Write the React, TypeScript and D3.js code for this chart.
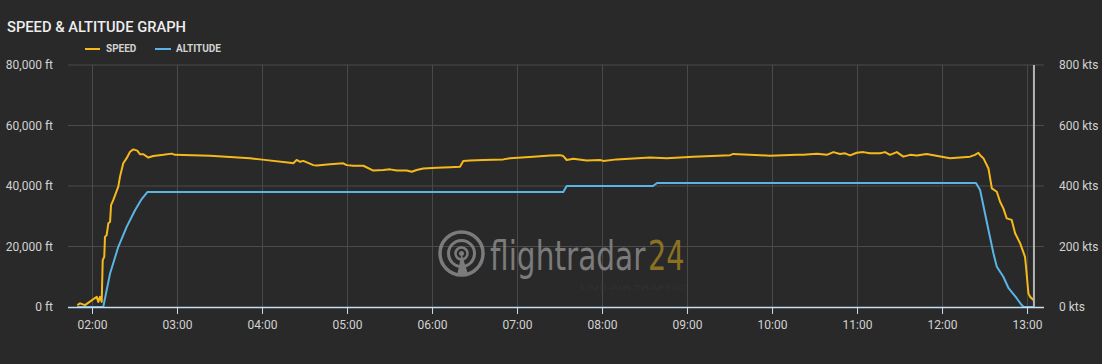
import React from "react";
import * as d3 from "d3";

// time in minutes since 00:00 UTC, speed in kts
const speedTimes = [109.3,111.2,114.7,123.0,124.1,125.3,126.5,127.2,128.3,128.8,130.0,131.2,132.4,133.1,134.7,138.2,139.4,141.7,144.1,146.5,148.8,151.6,153.5,155.9,159.4,162.9,170.0,175.9,178.2,202.9,231.2,238.2,259.4,261.7,264.1,266.5,268.8,275.9,278.3,287.6,297.0,299.4,304.1,311.2,318.2,325.3,330.0,334.7,341.8,345.3,348.8,353.5,363.0,372.4,379.4,381.7,386.5,395.9,410.0,414.7,431.2,443.0,450.0,452.3,454.7,459.4,468.8,478.2,480.6,490.0,513.5,525.3,544.1,570.0,572.3,591.2,598.2,617.1,621.7,631.2,638.3,643.0,647.6,651.2,654.7,659.4,664.1,668.8,675.9,679.4,682.9,687.7,692.3,697.1,701.8,708.8,725.3,739.4,742.9,745.3,746.5,748.8,752.4,754.8,758.3,760.6,762.9,765.3,768.8,771.2,774.7,778.2,778.9,780.6,781.8,784.1];
const speedKts = [6,12,6,34,17,34,17,155,166,232,238,277,282,337,354,398,431,475,492,513,521,517,505,505,494,499,503,507,503,500,492,488,477,475,486,480,483,469,468,472,475,469,467,467,451,453,455,451,451,447,453,458,460,462,464,483,484,486,488,492,497,501,502,499,486,490,484,486,483,488,494,492,497,502,506,502,500,503,503,507,503,512,506,508,501,510,512,508,508,512,503,512,497,503,501,506,492,497,503,510,502,492,458,392,381,348,326,293,288,244,211,166,133,45,34,23,7];

const altTimes = [109.1,127.6,132.4,138.2,144.1,150.0,154.7,158.7,452.3,454.7,515.6,518.5,743.6,746.5,752.4,755.9,758.3,762.9,766.6,772.3,775.8,777.4,784.0];
const altFeet = [0,0,11100,19900,26500,32000,35700,38000,38000,40000,40000,41000,41000,38700,25450,17750,13300,10000,6200,2900,660,0,0];

const hourTicks = [120,180,240,300,360,420,480,540,600,660,720,780];
const altTicks = [0,20000,40000,60000,80000];
const speedTicks = [0,200,400,600,800];
const cursorTime = 784.5;

const BG = "#292929";
const GRID = "#4b4b4b";
const TXT = "#d2d2d2";
const SPEED = "#f6b91c";
const ALT = "#5ab4e5";
const AXIS = "#c9dff0";

export default function App() {
  const W = 1102, H = 364;
  const x = d3.scaleLinear().domain([102.7, 791.6]).range([68, 1044]);
  const yAlt = d3.scaleLinear().domain([0, 80000]).range([307, 65]);
  const ySpd = d3.scaleLinear().domain([0, 800]).range([307, 65]);

  const spdLine = d3.line<number>().x((_, i) => x(speedTimes[i])).y((d) => ySpd(d));
  const altLine = d3.line<number>().x((_, i) => x(altTimes[i])).y((d) => yAlt(d));

  const fmtTime = (m: number) => {
    const h = Math.floor(m / 60), mm = Math.round(m % 60);
    return `${String(h).padStart(2, "0")}:${String(mm).padStart(2, "0")}`;
  };
  const fmtFt = d3.format(",");

  return (
    <svg width={W} height={H} style={{ position: "absolute", left: 0, top: 0, background: BG }} fontFamily="Roboto, sans-serif">
      <rect x={0} y={0} width={W} height={H} fill={BG} />
      <text x={7} y={32} fontSize={15.5} fontWeight={500} fill="#eeeeee" textLength={179} lengthAdjust="spacingAndGlyphs">SPEED &amp; ALTITUDE GRAPH</text>

      {/* legend */}
      <line x1={85} x2={100} y1={49} y2={49} stroke={SPEED} strokeWidth={2} />
      <text x={106} y={52} fontSize={10} fontWeight={700} fill={TXT}>SPEED</text>
      <line x1={155} x2={171} y1={49} y2={49} stroke={ALT} strokeWidth={2} />
      <text x={176} y={52} fontSize={10} fontWeight={700} fill={TXT}>ALTITUDE</text>

      {/* grid */}
      {altTicks.filter((t) => t > 0).map((t) => (
        <line key={"h" + t} x1={68} x2={1044} y1={yAlt(t)} y2={yAlt(t)} stroke={GRID} strokeWidth={1} />
      ))}
      {hourTicks.map((t) => (
        <line key={"v" + t} x1={x(t)} x2={x(t)} y1={65} y2={307} stroke={GRID} strokeWidth={1} />
      ))}

      {/* watermark */}
      <g opacity={0.85}>
        <circle cx={461.5} cy={253.5} r={21.5} fill="none" stroke="#8a8a8a" strokeWidth={3.5} />
        <circle cx={461.5} cy={253.5} r={13} fill="none" stroke="#8a8a8a" strokeWidth={3} />
        <circle cx={461.5} cy={253.5} r={6} fill="none" stroke="#8a8a8a" strokeWidth={2.5} />
        <path d="M461.5,253.5 L468,274 L457,276 Z" fill="#8a8a8a" />
        <circle cx={461.5} cy={253.5} r={2.5} fill="#8a8a8a" />
        <g transform="translate(490,270) scale(0.74,1)">
          <text x={0} y={0} fontSize={40} fontFamily="'DejaVu Sans', sans-serif" fill="#8a8a8a">flightradar</text>
        </g>
        <g transform="translate(648,270) scale(0.72,1)">
          <text x={0} y={0} fontSize={40} fontFamily="'DejaVu Sans', sans-serif" fill="#9c7f22">24</text>
        </g>
        <text x={580} y={290} fontSize={8} fill="#333333" textLength={105} lengthAdjust="spacingAndGlyphs">LIVE AIR TRAFFIC</text>
      </g>

      {/* series */}
      <path d={altLine(altFeet) || ""} fill="none" stroke={ALT} strokeWidth={2} strokeLinejoin="round" />
      <path d={spdLine(speedKts) || ""} fill="none" stroke={SPEED} strokeWidth={2} strokeLinejoin="round" />

      {/* x axis */}
      <line x1={68} x2={1044} y1={307.5} y2={307.5} stroke={AXIS} strokeWidth={1.5} />
      {hourTicks.map((t) => (
        <g key={"xt" + t}>
          <line x1={x(t)} x2={x(t)} y1={307} y2={314} stroke={AXIS} strokeWidth={1} />
          <text x={x(t)} y={329} fontSize={12} fill={TXT} textAnchor="middle">{fmtTime(t)}</text>
        </g>
      ))}

      {/* cursor */}
      <line x1={x(cursorTime)} x2={x(cursorTime)} y1={65} y2={307} stroke="#b5b5b5" strokeWidth={2} />

      {/* y axes */}
      {altTicks.map((t) => (
        <text key={"ya" + t} x={53} y={yAlt(t) + 4} fontSize={12} fill={TXT} textAnchor="end">{fmtFt(t)} ft</text>
      ))}
      {speedTicks.map((t) => (
        <text key={"ys" + t} x={1059} y={ySpd(t) + 4} fontSize={12} fill={TXT}>{t} kts</text>
      ))}
    </svg>
  );
}
